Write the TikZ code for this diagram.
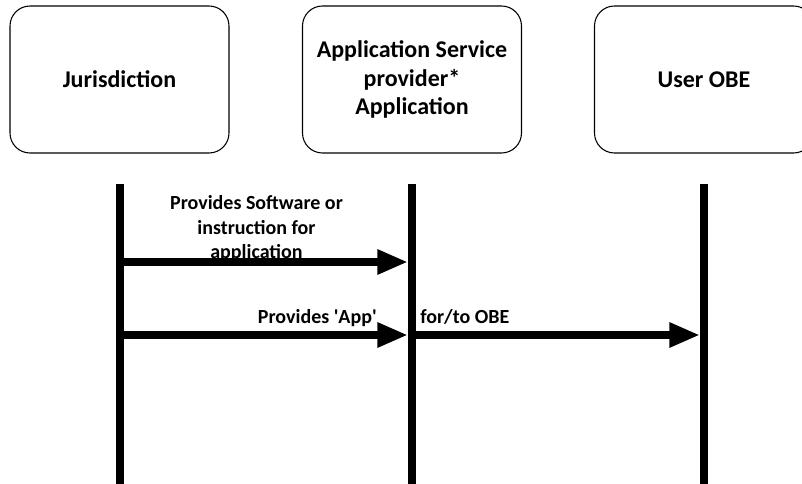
\documentclass[tikz,border=0pt]{standalone}
\usepackage{fontspec}
\setmainfont{Carlito}
\usetikzlibrary{arrows.meta}
\tikzset{
  actor/.style={draw=black, line width=0.8pt, rounded corners=15pt,
    minimum width=164.25pt, minimum height=110.25pt, align=center,
    font=\fontsize{18}{21.6}\selectfont\bfseries},
  lifeline/.style={line width=6pt},
  message/.style={line width=6pt, -{Triangle[length=23pt,width=17.5pt]}, shorten >=0pt},
  msglabel/.style={inner sep=0pt, align=center,
    font=\fontsize{15}{18.4}\selectfont\bfseries}
}
\begin{document}
\begin{tikzpicture}[x=0.75pt,y=-0.75pt]
  \useasboundingbox (0,0) rectangle (802,484);
  \clip (0,0) rectangle (802,484);

  % participants
  \node[actor] (jur) at (119.5,79.5) {Jurisdiction};
  \node[actor] (asp) at (412,79.5) {Application Service\\provider*\\Application};
  \node[actor] (obe) at (704,79.5) {User OBE};

  % lifeline end points
  \coordinate (jurTop) at (120,184);
  \coordinate (jurBot) at (120,490);
  \coordinate (aspTop) at (412,184);
  \coordinate (aspBot) at (412,490);
  \coordinate (obeTop) at (704,184);
  \coordinate (obeBot) at (704,490);

  \draw[lifeline] (jurTop) -- (jurBot);
  \draw[lifeline] (aspTop) -- (aspBot);
  \draw[lifeline] (obeTop) -- (obeBot);

  % message anchors on the lifelines
  \coordinate (m1s) at (116,262);
  \coordinate (m1e) at (408,262);
  \coordinate (m2s) at (116,335);
  \coordinate (m2e) at (408,335);
  \coordinate (m3s) at (412,335);
  \coordinate (m3e) at (700,335);

  \draw[message] (m1s) -- (m1e);
  \draw[message] (m2s) -- (m2e);
  \draw[message] (m3s) -- (m3e);

  % message labels
  \node[msglabel, anchor=base] (l1) at (256.5,259) {Provides Software or\\instruction for\\application};
  \node[msglabel, anchor=base east] (l2) at (377,323) {Provides \textquotesingle App\textquotesingle};
  \node[msglabel, anchor=base west] (l3) at (420,323) {for/to OBE};
\end{tikzpicture}
\end{document}
